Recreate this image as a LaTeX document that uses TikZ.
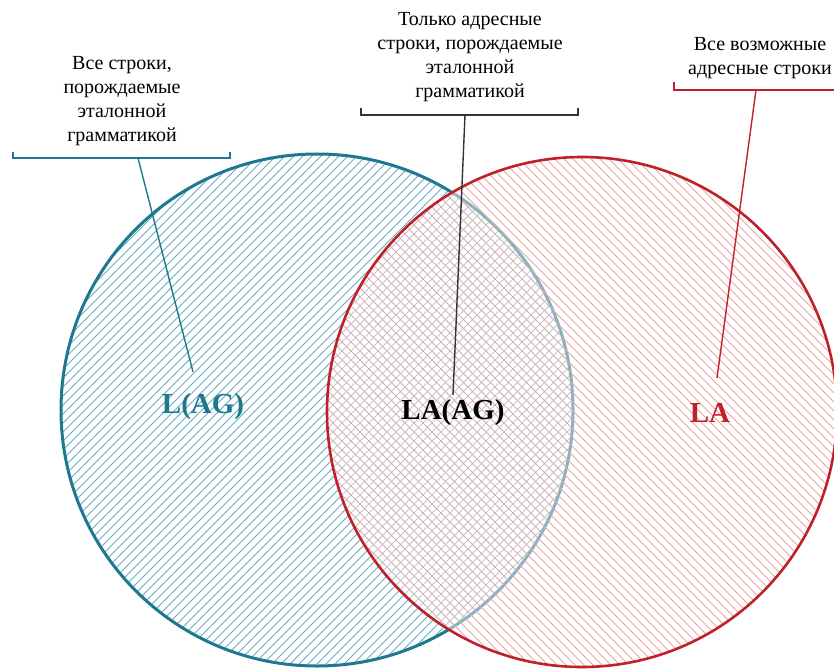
\documentclass[tikz,border=0pt]{standalone}
\usepackage{fontspec}
\setmainfont{Liberation Serif}
\definecolor{setblue}{HTML}{1E7890}
\definecolor{hatchblue}{HTML}{6AACC0}
\definecolor{setred}{HTML}{C0202A}
\definecolor{hatchred}{HTML}{EBA3A3}
\definecolor{braceblack}{HTML}{333333}
\tikzset{
  caption/.style={align=center, inner sep=0pt, font=\fontsize{20}{24}\selectfont},
  setname/.style={inner sep=0pt, font=\fontsize{29}{32}\selectfont\bfseries},
  hatchb/.style={draw=hatchblue, line width=0.9pt},
  hatchr/.style={draw=hatchred, line width=0.9pt},
  bracket/.style={line width=1.6pt},
  leader/.style={line width=1.4pt}
}
\begin{document}
\begin{tikzpicture}[x=1pt,y=-1pt]
\useasboundingbox (0,0) rectangle (834,671);

% circle centres
\coordinate (cb) at (317,410);
\coordinate (cr) at (582,412);

% L(AG): blue hatched disc
\begin{scope}
  \clip (cb) circle[radius=256];
  \foreach \c in {0,9,...,1600}
    \draw[hatchb] (\c,0) -- (\c-700,700);
\end{scope}
\draw[setblue, line width=3pt] (cb) circle[radius=256];

% LA: red hatched disc, lightening what lies beneath
\fill[white, opacity=0.45] (cr) circle[radius=255];
\begin{scope}
  \clip (cr) circle[radius=255];
  \foreach \c in {-720,-711,...,840}
    \draw[hatchr] (\c,0) -- (\c+700,700);
\end{scope}
\draw[setred, line width=2.6pt] (cr) circle[radius=255];

% set names
\node[setname, text=setblue] (lag) at (203,407) {L(AG)};
\node[setname, text=black] (laag) at (453,413) {LA(AG)};
\node[setname, text=setred] (la) at (710,413) {LA};

% captions
\node[caption] (capl) at (122,101) {Все строки,\\порождаемые\\эталонной\\грамматикой};
\node[caption] (capm) at (470,57) {Только адресные\\строки, порождаемые\\эталонной\\грамматикой};
\node[caption] (capr) at (760,58) {Все возможные\\адресные строки};

% brackets under captions
\draw[bracket, setblue] (13,152) -- (13,158) -- (230,158) -- (230,152);
\draw[bracket, braceblack] (361,108) -- (361,115) -- (578,115) -- (578,108);
\draw[bracket, setred] (674,82) -- (674,90) -- (836,90);

% leader lines
\coordinate (bl) at (138,158);
\coordinate (tl) at (193,372);
\coordinate (bm) at (465,115);
\coordinate (tm) at (453,395);
\coordinate (br) at (756,90);
\coordinate (tr) at (717,378);
\draw[leader, setblue] (bl) -- (tl);
\draw[leader, braceblack] (bm) -- (tm);
\draw[leader, setred] (br) -- (tr);
\end{tikzpicture}
\end{document}
